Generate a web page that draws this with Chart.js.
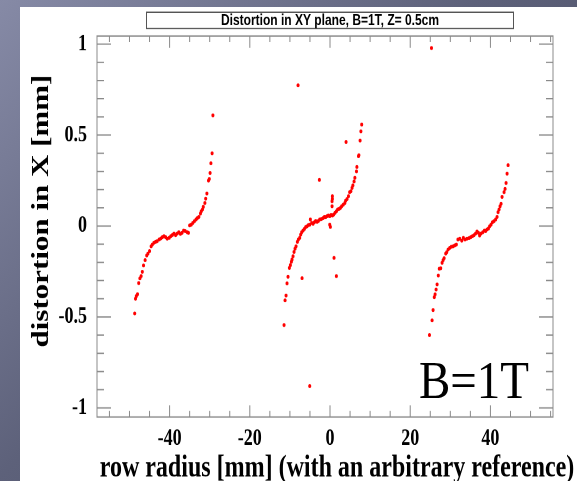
<!DOCTYPE html>
<html><head><meta charset="utf-8">
<script src="https://cdn.jsdelivr.net/npm/chart.js@4/dist/chart.umd.min.js"></script>
<style>
html,body{margin:0;padding:0;width:577px;height:481px;overflow:hidden;}
body{position:relative;background:linear-gradient(135deg,#868aa6 0%,#5d617a 45%,#46495d 100%);}
#panel{position:absolute;left:20px;top:7px;width:557px;height:474px;background:#fff;overflow:hidden;}
#c{position:absolute;left:0;top:0;transform-origin:0 0;transform:scaleY(1.29155);}
#note{position:absolute;left:419px;top:354px;font-family:'Liberation Serif','Times New Roman',serif;font-size:47px;line-height:47px;color:#000;white-space:nowrap;transform-origin:0 0;transform:scaleY(1.12);}
</style></head><body>
<div id="panel"><canvas id="c" width="557" height="367"></canvas></div>
<div id="note">B=1T</div>
<script>
// ---- data ----
const radiusA = [-29.2,-29.4,-29.7,-29.9,-30.1,-30.3,-30.7,-31.0,-31.2,-31.6,-31.8,-32.1,-32.3,-32.7,-33.1,-33.4,-33.8,-34.2,-34.6,-35.0,
  -35.3,-35.6,-36.1,-36.5,-36.9,-37.3,-37.7,-38.1,-38.5,-38.9,-39.3,-39.7,-40.1,-40.6,-41.0,-41.4,-41.8,-42.2,-42.6,-43.1,
  -43.5,-43.9,-44.3,-44.6,-45.0,-45.4,-45.7,-46.1,-46.5,-46.8,-47.1,-47.4,-47.7,-48.0,-48.3,-48.5,-48.7];
const distA = [0.609,0.400,0.345,0.292,0.259,0.250,0.179,0.151,0.127,0.105,0.091,0.081,0.069,0.050,0.043,0.036,0.027,0.017,0.008,0.003,
  -0.038,-0.034,-0.028,-0.025,-0.038,-0.043,-0.034,-0.041,-0.050,-0.041,-0.049,-0.056,-0.065,-0.070,-0.061,-0.056,-0.061,-0.069,-0.074,-0.083,
  -0.087,-0.092,-0.102,-0.111,-0.138,-0.151,-0.162,-0.188,-0.217,-0.252,-0.276,-0.288,-0.314,-0.375,-0.386,-0.400,-0.481];

const radiusB = [7.9,7.7,7.5,7.2,7.1,6.7,6.6,6.2,6.0,5.7,5.5,5.2,4.9,4.6,4.25,3.9,3.7,3.3,2.9,2.6,2.25,1.9,1.6,1.25,0.9,0.6,0.26,-0.07,-0.41,-0.74,
  -1.07,-1.4,-1.74,-2.15,-2.57,-2.9,-3.23,-3.57,-3.9,-4.23,-4.56,-4.9,-5.06,-5.39,-5.73,-6.06,-6.39,-6.73,-7.06,-7.31,-7.56,-7.89,-8.14,-8.47,-8.72,
  -8.97,-9.22,-9.47,-9.63,-9.88,-10.13,-10.47,-10.72,-10.96,-11.21,-11.46,
  0.59,0.59,0.51,0.51,-0.07,0.09,-7.97,4.0,-2.65,1.0,1.59,-6.97,-5.06];
const distB = [0.558,0.521,0.470,0.389,0.384,0.325,0.301,0.265,0.245,0.223,0.210,0.191,0.186,0.164,0.149,0.140,0.127,0.118,0.109,0.100,0.094,0.091,0.081,0.072,0.063,0.058,0.061,0.054,0.058,0.054,
  0.049,0.050,0.043,0.039,0.036,0.028,0.023,0.028,0.021,0.012,0.017,0.036,0.008,0.005,-0.001,-0.006,-0.016,-0.025,-0.034,-0.047,-0.065,-0.074,-0.087,-0.111,-0.125,
  -0.142,-0.166,-0.184,-0.197,-0.215,-0.230,-0.279,-0.316,-0.382,-0.409,-0.545,
  0.164,0.149,0.136,0.109,0.008,-0.005,0.774,0.462,0.254,-0.175,-0.276,-0.287,-0.880];

const radiusC = [25.3,44.4,44.15,43.9,43.65,43.4,42.9,42.65,42.4,42.15,41.9,41.65,41.3,40.9,40.5,40.15,39.8,39.5,39.15,38.8,38.5,38.1,37.65,37.3,37.0,36.65,36.3,35.9,35.5,35.1,
  34.65,34.15,33.65,33.25,32.85,32.35,31.9,31.5,31.1,30.7,30.25,29.85,29.45,29.1,28.85,28.45,28.2,27.95,27.6,27.25,27.0,26.7,26.45,26.2,26.0,25.7,25.45,24.8];
const distC = [0.979,0.334,0.288,0.237,0.204,0.186,0.160,0.122,0.109,0.091,0.076,0.050,0.036,0.027,0.021,0.008,-0.001,-0.014,-0.019,-0.028,-0.025,-0.034,-0.041,-0.052,-0.038,-0.030,-0.041,-0.050,-0.056,-0.061,
  -0.067,-0.070,-0.074,-0.065,-0.080,-0.070,-0.074,-0.102,-0.107,-0.111,-0.114,-0.120,-0.129,-0.144,-0.151,-0.177,-0.188,-0.202,-0.232,-0.235,-0.272,-0.321,-0.349,-0.376,-0.391,-0.462,-0.519,-0.600];

const xTickValues = [-40,-20,0,20,40];
const yTickValues = [-1,-0.5,0,0.5,1];
const plotTitle = 'Distortion in XY plane, B=1T, Z= 0.5cm';
const xTitle = 'row radius [mm] (with an arbitrary reference)';
const yTitle = 'distortion in X [mm]';

// ---- chart ----
const SERIF = "'Liberation Serif','Times New Roman',serif";
const SANS = "'Liberation Sans',Arial,Helvetica,sans-serif";
const toPts = (xs, ys) => xs.map((v, i) => ({x: v, y: ys[i]}));
const allPts = toPts(radiusA, distA).concat(toPts(radiusB, distB), toPts(radiusC, distC));

const rootDecor = {
  id: 'rootDecor',
  afterDraw(chart) {
    const {ctx, chartArea: a, scales: {x, y}} = chart;
    ctx.save();
    ctx.strokeStyle = '#8a8a8a';
    ctx.lineWidth = 1;
    ctx.strokeRect(a.left, a.top, a.right - a.left, a.bottom - a.top);
    ctx.beginPath();
    for (let v = -55; v <= 55; v += 5) {
      const px = x.getPixelForValue(v);
      if (px <= a.left || px >= a.right) continue;
      const len = (v % 20 === 0) ? 9 : 4.6;
      ctx.moveTo(px, a.bottom); ctx.lineTo(px, a.bottom - len);
      ctx.moveTo(px, a.top); ctx.lineTo(px, a.top + len);
    }
    for (let k = -10; k <= 10; k++) {
      const py = y.getPixelForValue(k / 10);
      const len = (k % 5 === 0) ? 14 : 7;
      ctx.moveTo(a.left, py); ctx.lineTo(a.left + len, py);
      ctx.moveTo(a.right, py); ctx.lineTo(a.right - len, py);
    }
    ctx.stroke();
    // title pave
    ctx.fillStyle = '#fff';
    ctx.fillRect(126.5, 4, 367, 12.6);
    ctx.strokeStyle = '#555';
    ctx.strokeRect(126.5, 4, 367, 12.6);
    ctx.fillStyle = '#000';
    ctx.font = 'bold 12px ' + SANS;
    ctx.textAlign = 'center';
    ctx.textBaseline = 'middle';
    ctx.fillText(plotTitle, 310, 10.6);
    // axis titles
    ctx.font = 'bold 24px ' + SERIF;
    ctx.fillText(xTitle, 317, 357.5);
    ctx.translate(21.7, 158);
    ctx.rotate(-Math.PI / 2);
    ctx.fillText(yTitle, 0, 0);
    ctx.restore();
  }
};

new Chart(document.getElementById('c'), {
  type: 'scatter',
  data: {
    datasets: [{
      data: allPts,
      backgroundColor: '#ff0000',
      borderWidth: 0,
      pointRadius: 1.5,
      pointHoverRadius: 1.5
    }]
  },
  options: {
    responsive: false,
    animation: false,
    devicePixelRatio: 2,
    layout: {padding: {top: 22.45, right: 24, left: 0, bottom: 0}},
    plugins: {legend: {display: false}, tooltip: {enabled: false}, title: {display: false}},
    scales: {
      x: {
        type: 'linear', min: -58.1, max: 55.6,
        afterBuildTicks: s => { s.ticks = xTickValues.map(v => ({value: v})); },
        afterFit: s => { s.height = 49.6; },
        grid: {display: false, drawTicks: false},
        border: {display: false},
        ticks: {color: '#000', padding: 6, maxRotation: 0, autoSkip: false,
          callback: v => String(v),
          font: {family: SERIF, size: 18, weight: 'bold'}}
      },
      y: {
        type: 'linear', min: -1.05, max: 1.045,
        afterBuildTicks: s => { s.ticks = yTickValues.map(v => ({value: v})); },
        afterFit: s => { s.width = 77; },
        grid: {display: false, drawTicks: false},
        border: {display: false},
        ticks: {color: '#000', padding: 10, autoSkip: false,
          callback: v => String(v),
          font: {family: SERIF, size: 18, weight: 'bold'}}
      }
    }
  },
  plugins: [rootDecor]
});
</script></body></html>
